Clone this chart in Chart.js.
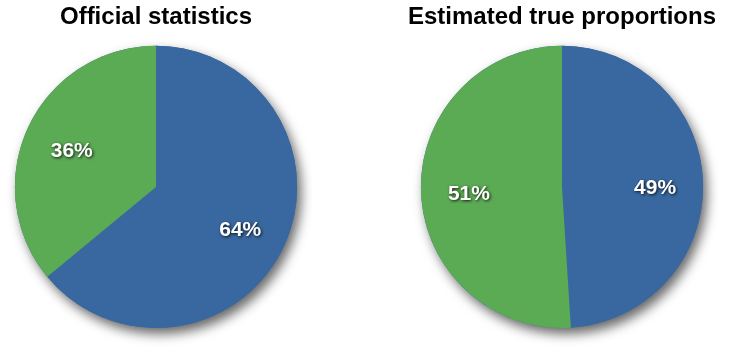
<!DOCTYPE html>
<html>
<head>
<meta charset="utf-8">
<script src="https://cdn.jsdelivr.net/npm/chart.js@4/dist/chart.umd.min.js"></script>
<style>
  html, body { margin: 0; padding: 0; background: #fff; }
  #wrap { position: relative; width: 730px; height: 354px; overflow: hidden; }
  .box { position: absolute; top: 0; }
</style>
</head>
<body>
<div id="wrap">
  <div class="box" style="left:0px"><canvas id="graph_official" width="312" height="354"></canvas></div>
  <div class="box" style="left:406px"><canvas id="graph_true" width="312" height="354"></canvas></div>
</div>
<script>
/*------------------------------*/
/*            DATA              */
/*------------------------------*/
var categories = ['Blue', 'Green']
var official_values = [64, 36]
var true_values = [49, 51]
var titles = ['Official statistics', 'Estimated true proportions']
var colors = ['rgb(57, 104, 160)', 'rgb(91, 170, 84)']

/*------------------------------*/
/*   shadow under the pie       */
/*------------------------------*/
var pieShadow = {
  id: 'pieShadow',
  beforeDatasetsDraw: function (chart) {
    var arc = chart.getDatasetMeta(0).data[0]
    if (!arc) return
    var ctx = chart.ctx
    ctx.save()
    ctx.shadowColor = 'rgba(0, 0, 0, 0.6)'
    ctx.shadowBlur = 12
    ctx.shadowOffsetX = 4
    ctx.shadowOffsetY = 6
    ctx.fillStyle = colors[0]
    ctx.beginPath()
    ctx.arc(arc.x, arc.y, arc.outerRadius, 0, Math.PI * 2)
    ctx.fill()
    ctx.restore()
  }
}

/*------------------------------*/
/*   percentage labels          */
/*------------------------------*/
var pieLabels = {
  id: 'pieLabels',
  afterDatasetsDraw: function (chart) {
    var ctx = chart.ctx
    var ds = chart.data.datasets[0]
    ctx.save()
    ctx.font = 'bold 21px "Liberation Sans", Arial, sans-serif'
    ctx.fillStyle = '#fff'
    ctx.textAlign = 'center'
    ctx.textBaseline = 'middle'
    ctx.shadowColor = 'rgba(0, 0, 0, 0.85)'
    ctx.shadowBlur = 3
    ctx.shadowOffsetX = 1
    ctx.shadowOffsetY = 1
    chart.getDatasetMeta(0).data.forEach(function (arc, i) {
      var mid = (arc.startAngle + arc.endAngle) / 2
      var r = arc.outerRadius * 0.66
      ctx.fillText(ds.data[i] + '%', arc.x + Math.cos(mid) * r, arc.y + Math.sin(mid) * r + 4)
    })
    ctx.restore()
  }
}

function makePie(id, values, title) {
  var ctx = document.getElementById(id).getContext('2d')
  return new Chart(ctx, {
    type: 'pie',
    data: {
      labels: categories,
      datasets: [{
        data: values,
        backgroundColor: colors,
        borderWidth: 0
      }]
    },
    options: {
      responsive: false,
      animation: false,
      layout: { padding: { left: 0, right: 0, top: 0, bottom: 26 } },
      plugins: {
        legend: { display: false },
        tooltip: { enabled: false },
        title: {
          display: true,
          text: title,
          color: '#000',
          font: { family: '"Liberation Sans", Arial, sans-serif', size: 24, weight: 'bold', lineHeight: 1.2 },
          padding: { top: 3, bottom: 14 }
        }
      }
    },
    plugins: [pieShadow, pieLabels]
  })
}

/*------------------------------*/
/*     GRAPHIQUES               */
/*------------------------------*/
var graph_official = makePie('graph_official', official_values, titles[0])
var graph_true = makePie('graph_true', true_values, titles[1])
</script>
</body>
</html>
